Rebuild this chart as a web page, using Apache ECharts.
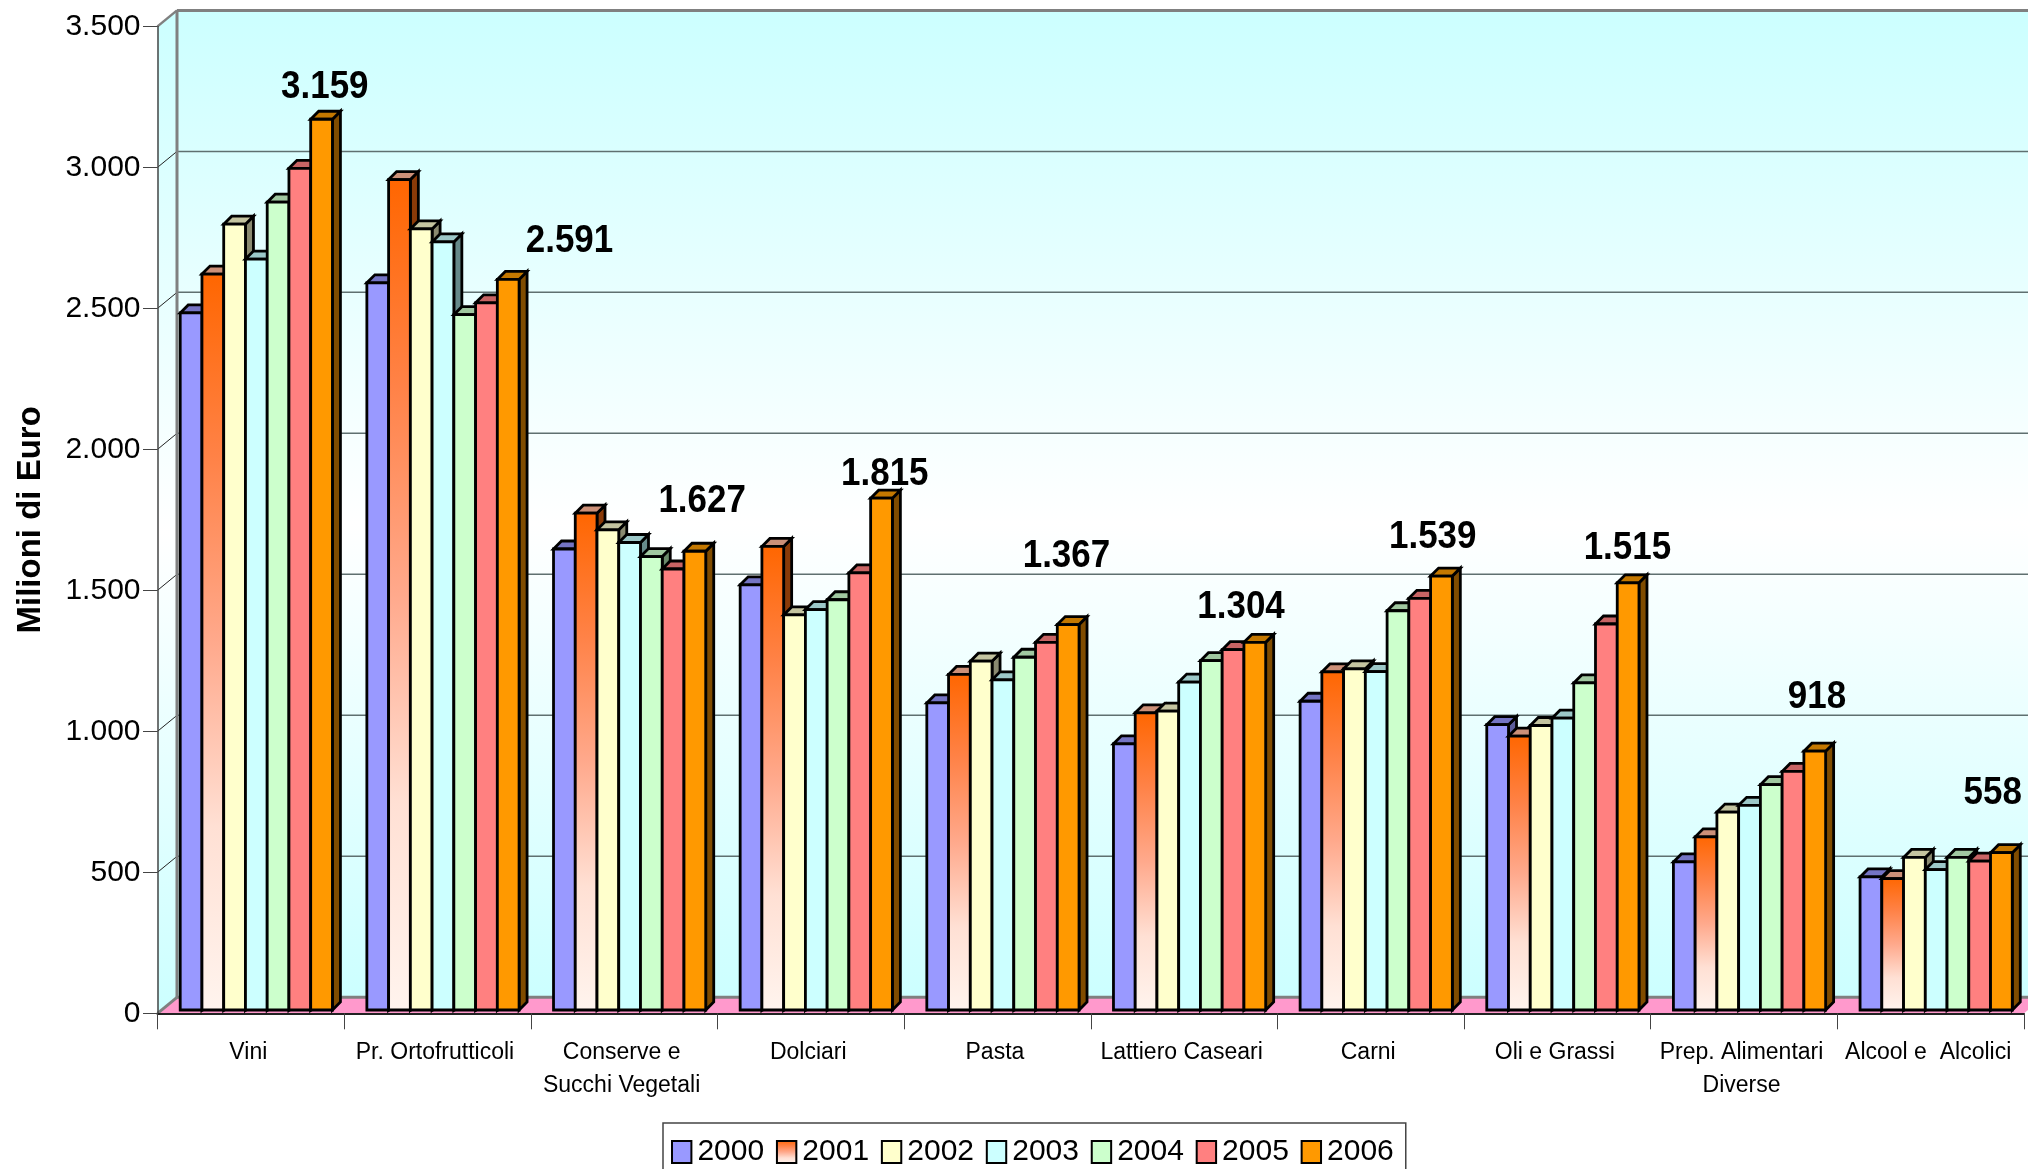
<!DOCTYPE html>
<html>
<head>
<meta charset="utf-8">
<style>html,body{margin:0;padding:0;background:#fff;overflow:hidden}#c{width:2028px;height:1169px}</style>
<script src="https://cdn.jsdelivr.net/npm/echarts@6/dist/echarts.min.js"></script>
</head>
<body>
<div id="c"></div>
<script>
const categories = ['Vini','Pr. Ortofrutticoli','Conserve e\nSucchi Vegetali','Dolciari','Pasta','Lattiero Caseari','Carni','Oli e Grassi','Prep. Alimentari\nDiverse','Alcool e  Alcolici'];
const years = ['2000','2001','2002','2003','2004','2005','2006'];
const v2000 = [2472,2579,1635,1508,1089,944,1095,1012,525,472];
const v2001 = [2610,2945,1762,1644,1190,1054,1199,971,614,466];
const v2002 = [2787,2770,1703,1401,1237,1060,1210,1009,702,541];
const v2003 = [2663,2724,1658,1420,1171,1163,1200,1035,726,498];
const v2004 = [2865,2466,1608,1455,1251,1239,1416,1160,799,541];
const v2005 = [2985,2508,1564,1550,1304,1278,1460,1369,846,528];
const v2006 = [3159,2591,1627,1815,1367,1304,1539,1515,918,558];
const yTicks = [0,500,1000,1500,2000,2500,3000,3500];
const labelNudgeX = [74,132,78,74,69,57,62,70,73,62];
const labelNudgeY = [-35,-41,-53,-27,-71,-38,-42,-38,-57,-62];

const allValues = [v2000,v2001,v2002,v2003,v2004,v2005,v2006];
const G = echarts.graphic.LinearGradient;
const grad2001 = () => new G(0,0,0,1,[{offset:0,color:'#FF6600'},{offset:0.25,color:'#FF8247'},{offset:0.5,color:'#FFA98C'},{offset:0.75,color:'#FFE0D4'},{offset:1,color:'#FFF4EE'}]);
const fronts = ['#9999FF',grad2001(),'#FFFFCC','#CCFFFF','#CCFFCC','#FF8080','#FF9900'];
const tops = ['#7474C4','#CC9078','#C4C4A0','#9CC8C8','#A0C8A0','#C86464','#C47800'];
const sides = ['#5C5C99','#8A3A08','#8A8A70','#668A8A','#6A8A6A','#8A4646','#804C00'];
const fontFam = '"Liberation Sans", Arial, sans-serif';
const fmt = n => String(n).replace(/\B(?=(\d{3})+$)/g,'.');

const depthX = 19.5, depthY = 16;      // wall depth
const barDX = 8, barDY = 8;            // bar depth
const barShiftX = 5.5, barShiftY = 3.3; // bar front plane offset
const barRatio = 0.1165;

function renderWalls(params, api){
  const cw = api.size([1,0])[0];
  const left = api.coord([0,0])[0] - cw/2;
  const right = api.coord([categories.length-1,0])[0] + cw/2;
  const y0 = api.coord([0,0])[1];
  const yT = api.coord([0,3500])[1];
  const wallGrad = () => new G(0,0,0,1,[{offset:0,color:'#CCFFFF'},{offset:0.52,color:'#FFFFFF'},{offset:1,color:'#CCFFFF'}]);
  const ch = [];
  ch.push({type:'rect',shape:{x:left+depthX,y:yT-depthY,width:right-left,height:y0-yT},style:{fill:wallGrad()}});
  ch.push({type:'polygon',shape:{points:[[left,yT],[left+depthX,yT-depthY],[left+depthX,y0-depthY],[left,y0]]},style:{fill:wallGrad()}});
  ch.push({type:'polygon',shape:{points:[[left,y0],[left+depthX,y0-depthY],[right+depthX,y0-depthY],[right,y0]]},style:{fill:'#FF99CC'}});
  yTicks.forEach(t=>{
    const y = api.coord([0,t])[1];
    if(t>0 && t<3500){
      ch.push({type:'line',shape:{x1:left+depthX,y1:y-depthY,x2:right+depthX,y2:y-depthY},style:{stroke:'#5F7070',lineWidth:1.5}});
    }
    if(t>0){
      ch.push({type:'line',shape:{x1:left,y1:y,x2:left+depthX,y2:y-depthY},style:{stroke:t===3500?'#808080':'#222',lineWidth:t===3500?2.5:1}});
    }
  });
  ch.push({type:'line',shape:{x1:left,y1:y0,x2:left+depthX,y2:y0-depthY},style:{stroke:'#808080',lineWidth:3}});
  ch.push({type:'line',shape:{x1:left+depthX,y1:yT-depthY,x2:left+depthX,y2:y0-depthY},style:{stroke:'#808080',lineWidth:3}});
  ch.push({type:'line',shape:{x1:left+depthX,y1:yT-depthY,x2:right+depthX,y2:yT-depthY},style:{stroke:'#808080',lineWidth:3}});
  ch.push({type:'line',shape:{x1:left+depthX,y1:y0-depthY,x2:right+depthX,y2:y0-depthY},style:{stroke:'#808080',lineWidth:3}});
  return {type:'group',children:ch};
}

function makeBarRenderer(k){
  return function(params, api){
    const i = api.value(0);
    const p = api.coord([i, api.value(1)]);
    const b = api.coord([i, 0]);
    const w = api.size([1,0])[0]*barRatio;
    const x = p[0] + barShiftX + (k-3.5)*w;
    const y = p[1] - barShiftY;
    const yb = b[1] - barShiftY;
    const common = {stroke:'#000',lineWidth:2.8,lineJoin:'miter'};
    return {type:'group',children:[
      {type:'polygon',shape:{points:[[x+w,y],[x+w+barDX,y-barDY],[x+w+barDX,yb-barDY],[x+w,yb]]},style:Object.assign({fill:sides[k]},common)},
      {type:'polygon',shape:{points:[[x,y],[x+barDX,y-barDY],[x+w+barDX,y-barDY],[x+w,y]]},style:Object.assign({fill:tops[k]},common)},
      {type:'rect',shape:{x:x,y:y,width:w,height:yb-y},style:Object.assign({fill:k===1?grad2001():fronts[k]},common)}
    ]};
  };
}

function renderLabels(params, api){
  const i = api.value(0), v = api.value(1);
  const p = api.coord([i,v]);
  return {type:'text',x:p[0]+labelNudgeX[i],y:p[1]+labelNudgeY[i],scaleX:0.92,
    style:{text:fmt(v),fill:'#000',font:'bold 38px '+fontFam,textAlign:'center',textVerticalAlign:'middle'}};
}

const chart = echarts.init(document.getElementById('c'),null,{renderer:'canvas'});
const series = [{
  name:'walls',type:'custom',renderItem:renderWalls,data:[[0,0]],z:-1,silent:true,clip:false,
  encode:{x:0,y:1}
}];
years.forEach((y,k)=>{
  series.push({
    name:y,type:'custom',renderItem:makeBarRenderer(k),z:2+k*0.01,clip:false,silent:true,
    itemStyle:{color:fronts[k],borderColor:'#000',borderWidth:2.5},
    encode:{x:0,y:1},
    data:allValues[k].map((v,i)=>[i,v])
  });
});
series.push({
  name:'labels',type:'custom',renderItem:renderLabels,z:5,clip:false,silent:true,
  encode:{x:0,y:1},
  data:v2006.map((v,i)=>[i,v])
});

chart.setOption({
  animation:false,
  backgroundColor:'#fff',
  textStyle:{fontFamily:fontFam},
  grid:{left:157.5,right:4,top:26.4,bottom:155.7,containLabel:false,outerBoundsMode:'none'},
  xAxis:{
    type:'category',data:categories,boundaryGap:true,
    axisLine:{show:true,onZero:true,lineStyle:{color:'#222',width:2}},
    axisTick:{show:true,length:16,alignWithLabel:false,lineStyle:{color:'#444',width:1}},
    axisLabel:{interval:0,fontSize:23,lineHeight:33,color:'#000',margin:22.5,padding:[0,5,0,0],fontFamily:fontFam},
    splitLine:{show:false}
  },
  yAxis:{
    type:'value',min:0,max:3500,interval:500,
    name:'Milioni di Euro',nameLocation:'middle',nameRotate:90,nameGap:110,
    nameTextStyle:{fontSize:33,fontWeight:'bold',color:'#000',fontFamily:fontFam},
    axisLine:{show:true,lineStyle:{color:'#444',width:1.5}},
    axisTick:{show:true,length:14.5,lineStyle:{color:'#444',width:1}},
    axisLabel:{fontSize:30,color:'#000',margin:17,fontFamily:fontFam,formatter:fmt},
    splitLine:{show:false}
  },
  legend:{
    data:years,left:663,top:1123,orient:'horizontal',selectedMode:false,
    padding:[14,12,14,8],itemGap:11.8,itemWidth:19.4,itemHeight:22,
    backgroundColor:'#fff',borderColor:'#444',borderWidth:1.5,
    icon:'rect',
    textStyle:{fontSize:30,color:'#000',fontFamily:fontFam,padding:[0,0,0,1]}
  },
  series:series
});
</script>
</body>
</html>
